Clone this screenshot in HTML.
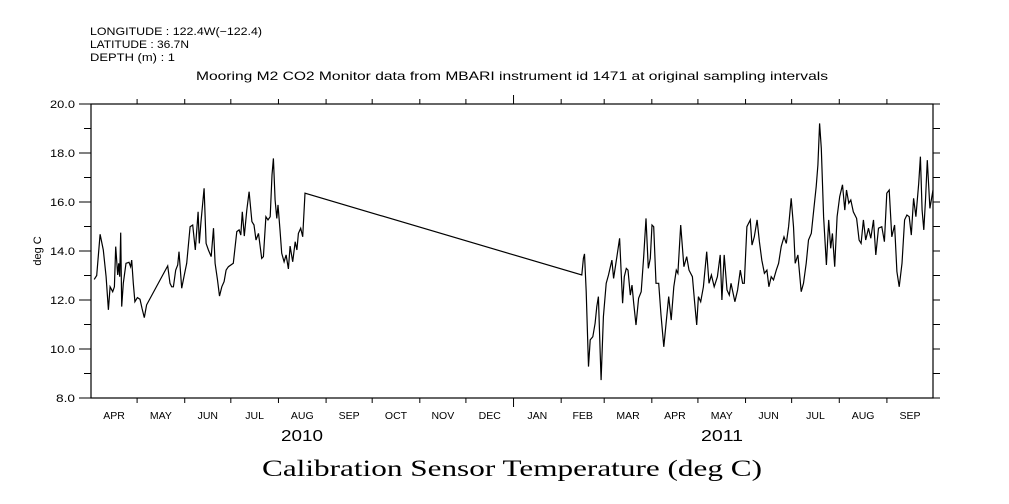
<!DOCTYPE html>
<html><head><meta charset="utf-8"><style>
html,body{margin:0;padding:0;background:#fff;}
svg{display:block;}
text{font-family:"Liberation Sans",sans-serif;fill:#000;}
</style></head><body>
<svg id="chart" width="1009" height="504" viewBox="0 0 1009 504" xmlns="http://www.w3.org/2000/svg">
<text x="90" y="35" font-size="11" textLength="172" lengthAdjust="spacingAndGlyphs">LONGITUDE : 122.4W(−122.4)</text>
<text x="90" y="48" font-size="11" textLength="99" lengthAdjust="spacingAndGlyphs">LATITUDE : 36.7N</text>
<text x="90" y="61" font-size="11" textLength="85" lengthAdjust="spacingAndGlyphs">DEPTH (m) : 1</text>
<text x="196" y="80" font-size="12" textLength="632" lengthAdjust="spacingAndGlyphs">Mooring M2 CO2 Monitor data from MBARI instrument id 1471 at original sampling intervals</text>
<text x="0" y="0" font-size="11" text-anchor="middle" transform="translate(41,251) rotate(-90)">deg C</text>
<text x="262" y="476" font-size="23" textLength="500" lengthAdjust="spacingAndGlyphs" style="font-family:'Liberation Serif',serif">Calibration Sensor Temperature (deg C)</text>
<g id="axes"></g>
<path id="series" fill="none" stroke="#000" stroke-width="1.2"></path>
</svg>
<script>
// days since 2010-04-01
const days = [2.1,3.7,5.9,8,9.8,11.3,12.4,14.1,15.2,16.1,17.4,18,18.7,19.3,20,21,22.8,24.7,25.8,26.5,27.5,28.6,30.2,31.9,33.2,34.7,36.2,49.9,51.4,52.5,53.6,55.1,56.4,57.3,59,60.7,62.3,64.5,66.2,67.9,69.7,70.5,71.6,73.6,74.9,76.4,78.2,79.7,80.8,82.3,83.6,85.1,86.6,87.9,89.4,92.6,94.9,96.4,97.5,98.5,99.8,101.4,102.9,104.7,106.1,107.4,109,111.1,112.2,113.8,115.2,116.6,117.8,118.7,119.8,120.9,121.7,123,124.1,125.7,127,128.5,129.6,131.3,132.9,134,135,136.5,137.8,139.3,
319.4,320.5,321.2,322.3,323.8,324.9,326.6,328.1,329.2,330.2,331.4,332,333.5,335.3,336.8,339,340.1,342.3,344,346,347.1,348.4,349.5,351,352.1,353.2,354.7,356.4,358.1,359.7,361.2,362.7,364,365.1,366.2,367.7,369.5,371,372.8,374.5,376,377.6,379.3,380.9,382,383.8,385.9,387.7,389.2,391.4,392.9,394.2,395.3,396.8,398.6,400.7,402.2,403.8,405.6,407.7,409.5,410.6,412.1,413.9,415.4,416.5,419.1,420.8,422.6,424.1,425.2,426.9,429.1,430.2,431.7,433.5,435,436.6,438.3,439.9,441.2,442.7,444.2,446,447.5,449.2,451,452.5,454,455.7,457.2,458.3,460.1,462.2,463.7,465.5,467,468.8,470.5,472,473.1,474.2,475.3,476.8,478.6,480.1,481.4,482.5,484,485.6,487.3,489.1,490.6,491.7,493.2,494.5,496.1,498.3,499.9,501.2,502.7,504.2,506,507.5,509.3,510.8,512.5,514.7,516.4,517.9,519.5,521.2,523,524.5,526,527.8,529.5,531,532.5,533.9,535.4,536.9,538.7,539.8,540.9,542,543.1,544.3,546,548];
const temps = [12.84,13.0,14.68,14.04,12.95,11.6,12.54,12.34,12.54,14.18,13.02,13.5,12.95,14.75,11.73,12.68,13.5,13.54,13.36,13.63,12.68,11.93,12.1,12.03,11.66,11.28,11.8,13.39,12.68,12.54,12.54,13.22,13.43,13.97,12.48,13.02,13.5,14.99,15.06,14.04,15.6,14.31,15.2,16.56,14.31,14.04,13.77,14.93,13.5,12.82,12.16,12.54,12.75,13.22,13.36,13.5,14.79,14.86,14.65,15.6,14.61,15.67,16.42,15.2,15.06,14.45,14.72,13.7,13.77,15.4,15.27,15.4,17.1,17.78,16.08,15.33,15.88,14.86,13.91,13.56,13.84,13.27,14.2,13.56,14.38,14.04,14.72,14.93,14.58,16.36,
13.02,13.7,13.88,12.34,9.28,10.37,10.5,11.05,11.73,12.14,9.82,8.73,11.32,12.68,13.02,13.63,12.88,13.77,14.52,11.87,12.95,13.29,13.22,12.2,12.61,11.87,10.98,12.07,12.34,13.77,15.33,13.29,13.7,15.06,14.99,12.68,12.68,11.39,10.09,11.18,12.14,11.18,12.54,13.22,13.09,15.06,13.36,13.77,13.22,12.95,11.87,10.98,12.14,11.93,12.54,13.97,12.68,13.02,12.54,12.95,13.84,12.0,13.84,12.41,12.2,12.68,11.93,12.41,13.22,12.68,12.68,14.99,15.27,14.24,14.58,15.27,14.38,13.63,13.09,13.22,12.54,12.95,12.82,13.22,13.5,14.18,14.58,14.31,14.99,16.15,14.99,13.5,13.84,12.34,12.68,13.5,14.45,14.72,15.74,16.63,17.51,19.21,18.19,15.4,13.43,15.27,14.11,14.72,13.36,15.4,16.22,16.7,15.67,16.49,15.95,16.08,15.6,15.33,14.45,14.31,15.27,14.45,14.93,14.52,15.27,13.84,14.93,14.99,14.38,16.36,16.49,14.58,15.06,13.16,12.54,13.5,15.27,15.47,15.4,14.65,16.15,15.4,16.76,17.85,15.67,14.86,16.08,17.71,15.74,16.49];
const monthLabels = ["APR","MAY","JUN","JUL","AUG","SEP","OCT","NOV","DEC","JAN","FEB","MAR","APR","MAY","JUN","JUL","AUG","SEP"];
const monthLengths = [30,31,30,31,31,30,31,30,31,31,28,31,30,31,30,31,31,30];
const yTickLabels = ["8.0","10.0","12.0","14.0","16.0","18.0","20.0"];
const yearLabels = ["2010","2011"];

const L=91,R=933,T=104,B=398,DMAX=548,YMIN=8,YMAX=20;
const xs=d=>L+(d/DMAX)*(R-L);
const ys=v=>B-(v-YMIN)/(YMAX-YMIN)*(B-T);
const NS="http://www.w3.org/2000/svg";
const ax=document.getElementById('axes');
function mk(tag,attrs){const e=document.createElementNS(NS,tag);for(const k in attrs)e.setAttribute(k,attrs[k]);ax.appendChild(e);return e;}
let frame=mk('rect',{x:L,y:T,width:R-L,height:B-T,fill:'none',stroke:'#000','stroke-width':1.2});


for(let v=YMIN;v<=YMAX;v++){
  const y=ys(v);
  const major=(v%2===0);
  let t1=mk('line',{x1:L-(major?12:7),x2:L,y1:y,y2:y,stroke:'#000'});
  
  
  let t2=mk('line',{x1:R,x2:R+7,y1:y,y2:y,stroke:'#000'});
  
  
}
yTickLabels.forEach(s=>{
  const w=s.length>3?25:19;
  const t=mk('text',{x:75-w,y:ys(parseFloat(s))+4,'font-size':11,textLength:w,lengthAdjust:'spacingAndGlyphs'});
  t.textContent=s;
  
  
});
let d=0;
monthLengths.forEach((len,i)=>{
  const isJan=monthLabels[i]==="JAN";
  const x=xs(d);
  if(d>0){
    let tb=mk('line',{x1:x,x2:x,y1:B,y2:B+(isJan?9:5),stroke:'#000'});
    
    
    let tt=mk('line',{x1:x,x2:x,y1:T,y2:T-(isJan?9:5),stroke:'#000'});
    
    
  }
  const lb=mk('text',{x:xs(d+len/2),y:B+21,'font-size':10.5,'text-anchor':'middle'});
  lb.textContent=monthLabels[i];
  
  
  d+=len;
});
const yr1=mk('text',{x:302,y:441,'font-size':16,'text-anchor':'middle',textLength:42,lengthAdjust:'spacingAndGlyphs'});
yr1.textContent=yearLabels[0];


const yr2=mk('text',{x:722,y:441,'font-size':16,'text-anchor':'middle',textLength:42,lengthAdjust:'spacingAndGlyphs'});
yr2.textContent=yearLabels[1];


let p='';
days.forEach((dd,i)=>{p+=(i?'L':'M')+xs(dd).toFixed(1)+' '+ys(temps[i]).toFixed(1);});
document.getElementById('series').setAttribute('d',p);
</script>
</body></html>
